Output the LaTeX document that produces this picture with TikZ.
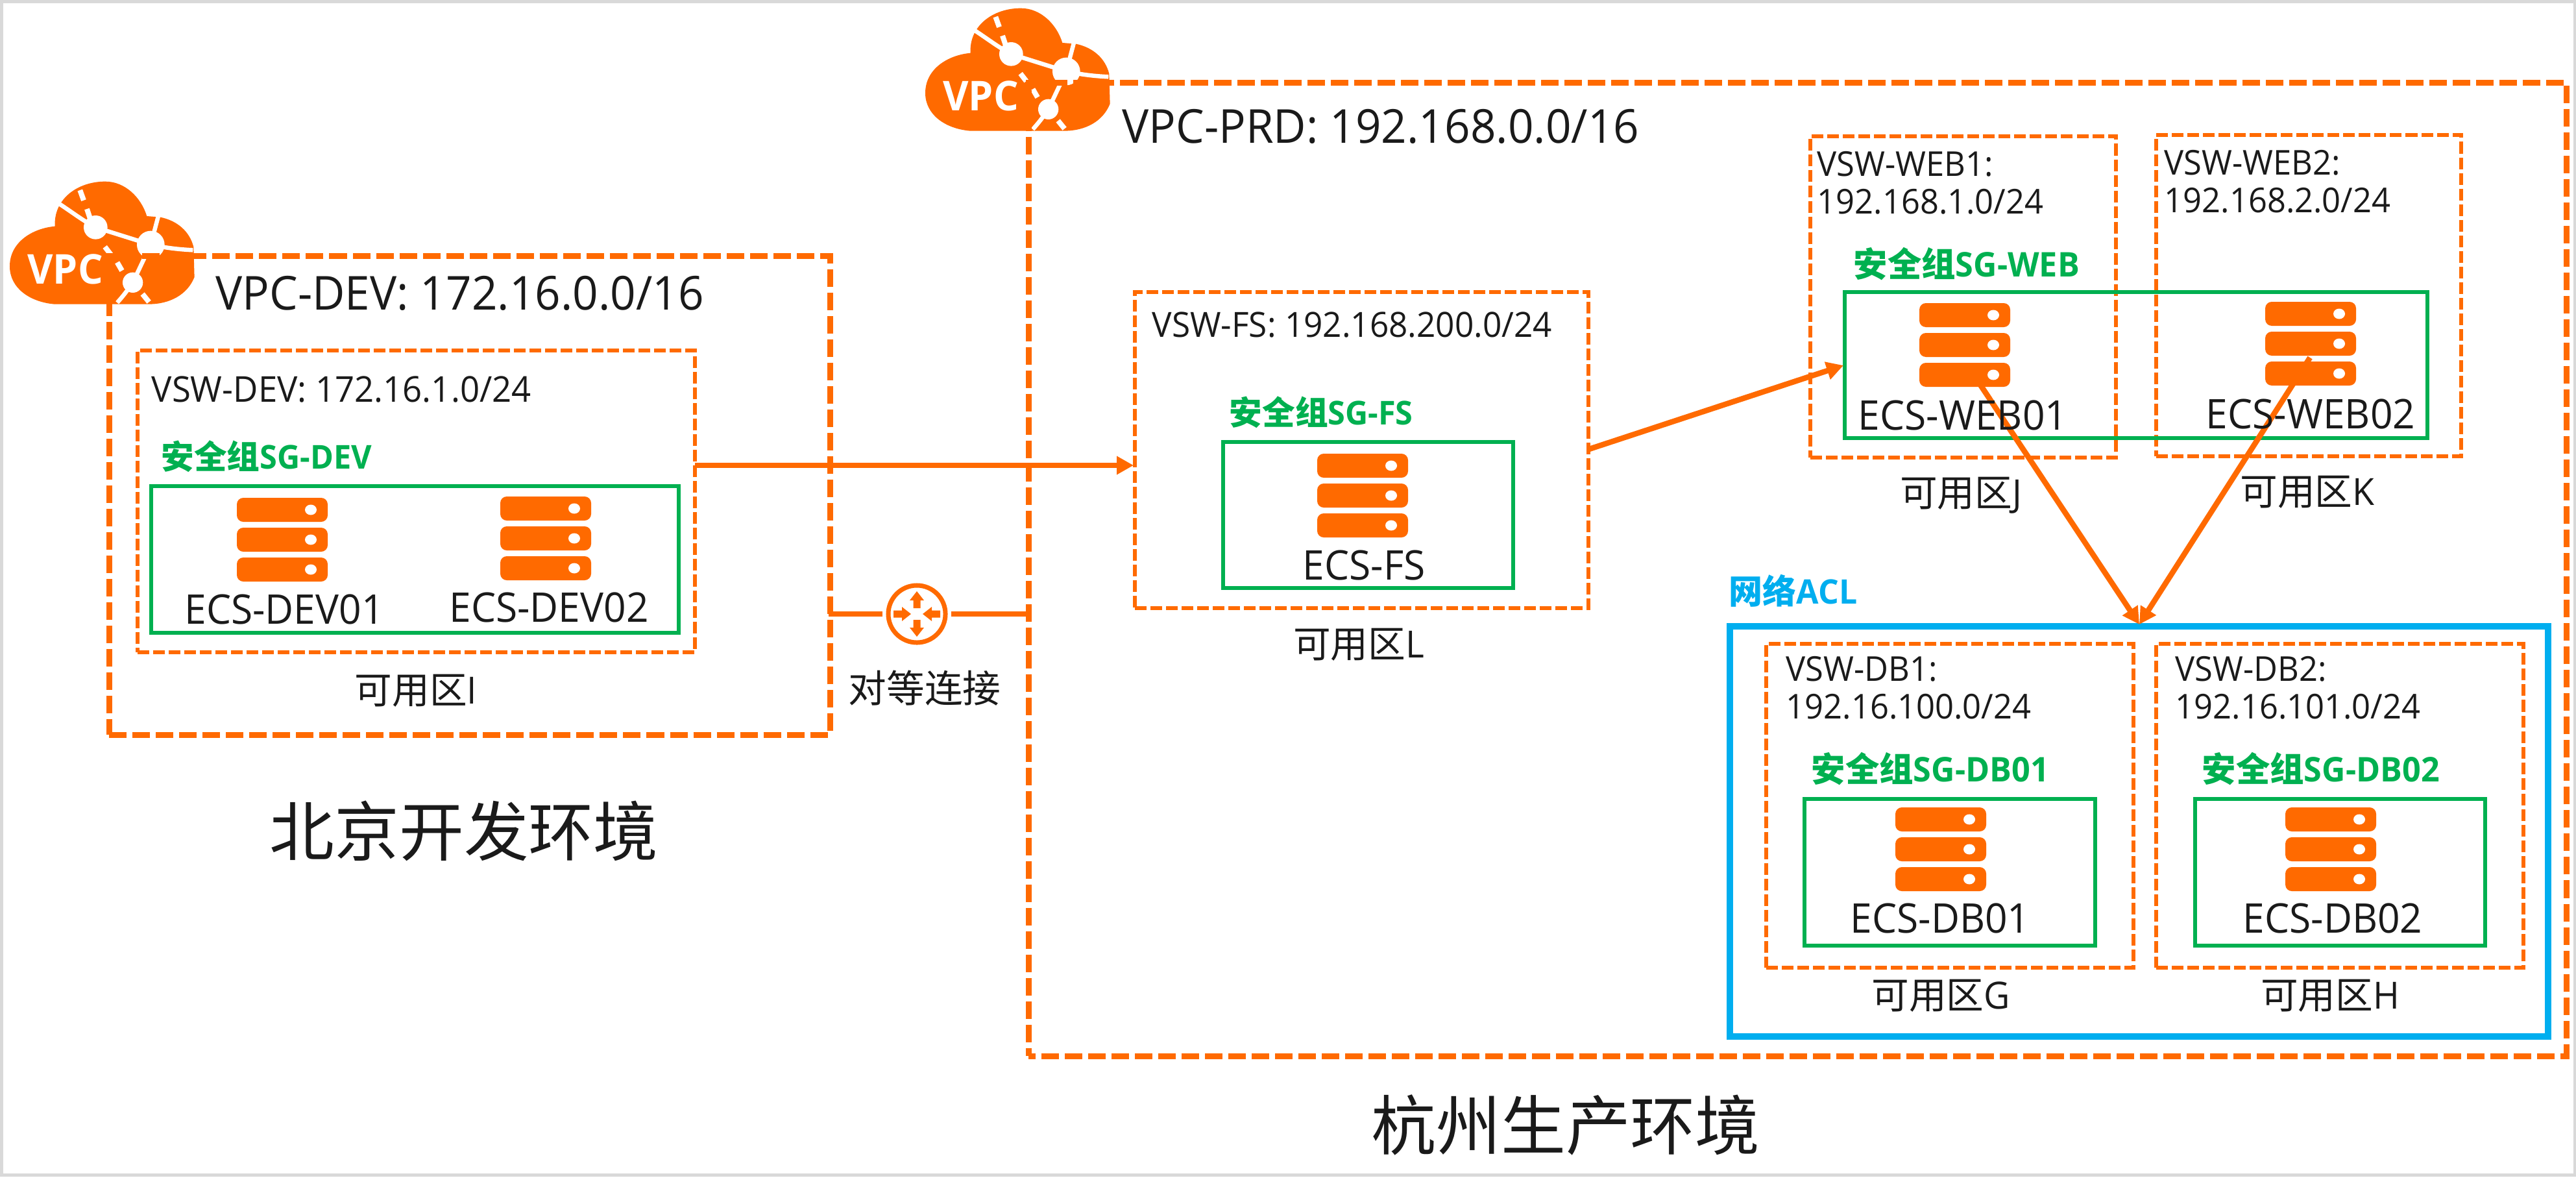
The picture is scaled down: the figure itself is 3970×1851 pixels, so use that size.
\documentclass[tikz,border=0pt]{standalone}
\usepackage{fontspec}
\setmainfont[FakeStretch=0.96]{Open Sans}
\newfontfamily\cjk{Noto Sans CJK SC}
\usetikzlibrary{fit,arrows.meta}
\definecolor{ali}{HTML}{FF6A00}
\definecolor{sg}{HTML}{00B050}
\definecolor{acl}{HTML}{00AEEF}
\definecolor{ink}{HTML}{1A1A1A}
\definecolor{frame}{HTML}{D9D9D9}
\newcommand\cn[1]{{\cjk #1}}
\tikzset{
  vpcbox/.style={draw=ali,line width=0.09cm,dash pattern=on 0.27cm off 0.09cm,inner sep=0pt,rectangle},
  vswbox/.style={draw=ali,line width=0.055cm,dash pattern=on 0.18cm off 0.06cm,inner sep=0pt,rectangle},
  sgbox/.style={draw=sg,line width=0.06cm,inner sep=0pt,rectangle},
  aclbox/.style={draw=acl,line width=0.095cm,inner sep=0pt,rectangle},
  lab/.style={inner sep=0pt,text=ink,anchor=base west},
  vpclab/.style={lab,font=\fontsize{20.5}{24}\selectfont},
  vswlab/.style={lab,font=\fontsize{15.6}{16.5}\selectfont},
  vswtwo/.style={lab,anchor=west,align=left,font=\fontsize{15}{16.5}\selectfont},
  sglab/.style={inner sep=0pt,text=sg,anchor=base west,font=\fontsize{14.4}{17}\selectfont\bfseries},
  sglabb/.style={sglab,font=\fontsize{14.9}{17}\selectfont\bfseries},
  acllab/.style={inner sep=0pt,text=acl,anchor=base west,font=\fontsize{14.8}{17}\selectfont\bfseries},
  ecslab/.style={inner sep=0pt,text=ink,anchor=base,font=\fontsize{17.9}{20}\selectfont},
  zonelab/.style={inner sep=0pt,text=ink,anchor=base,font=\fontsize{16.4}{18}\selectfont},
  envlab/.style={inner sep=0pt,text=ink,anchor=base,font=\fontsize{28.4}{32}\selectfont},
  flow/.style={draw=ali,line width=0.085cm,-{Triangle[length=0.26cm,width=0.27cm]}},
  plainlink/.style={draw=ali,line width=0.085cm},
  vpc/.pic={
    \fill[ali] (345,605) .. controls (230,595) and (138,530) .. (138,430)
      .. controls (138,320) and (240,255) .. (347,245)
      .. controls (340,120) and (450,38) .. (580,38)
      .. controls (670,38) and (745,110) .. (772,198) -- (835,203)
      .. controls (915,220) and (970,270) .. (988,340)
      -- (992,480) .. controls (960,560) and (880,605) .. (780,605) -- cycle;
    \begin{scope}[draw=white,line width=0.065cm]
      \draw (535,250) .. controls (470,215) and (420,175) .. (362,138);
      \draw (535,250) -- (790,330);
      \draw (790,330) -- (825,198);
      \draw (790,330) .. controls (860,345) and (920,352) .. (985,355);
      \draw (790,330) -- (707,505);
      \draw (707,505) .. controls (680,545) and (660,570) .. (635,598);
    \end{scope}
    \fill[white] (535,250) circle (55);
    \fill[white] (790,330) circle (64);
    \fill[white] (707,505) circle (47);
    \begin{scope}[draw=white,line width=0.08cm]
      \draw (463,78) -- (480,125);
      \draw (495,165) -- (510,210);
      \draw (578,340) -- (605,375);
      \draw (635,412) -- (657,450);
      \draw (752,558) -- (782,595);
    \end{scope}
    \node[inner sep=0pt,text=white,anchor=base,font=\fontsize{18}{20}\selectfont\bfseries] (t) at (395,512) {VPC};
  },
  server/.pic={
    \foreach \yy in {0,46,92}{
      \fill[ali,rounded corners=0.1cm] (-70,\yy) rectangle (70,37+\yy);
      \fill[white] (44,18.5+\yy) ellipse (9 and 8);
    }
  }
}
\begin{document}
\begin{tikzpicture}[x=0.01cm,y=-0.01cm]
\useasboundingbox (0,0) rectangle (3970,1851);
\fill[white] (0,0) rectangle (3970,1851);
\draw[draw=frame,line width=0.05cm] (2,2) rectangle (3968,1810);

% clouds (drawn under the dashed VPC boxes)
\pic[scale=0.3333] (cloudprd) at (1380,0) {vpc};
\pic[scale=0.3333] (clouddev) at (-31,267) {vpc};

% containers
\node[vpcbox,fit={(168,394)(1279,1132)}] (vpcdev) {};
\node[vpcbox,dash phase=0.16cm,fit={(1585,127)(3955,1627)}] (vpcprd) {};
\node[vswbox,fit={(212,540)(1071,1005)}] (vswdev) {};
\node[vswbox,fit={(1749,450)(2448,937)}] (vswfs) {};
\node[vswbox,fit={(2790,210)(3261,705)}] (vswweba) {};
\node[vswbox,fit={(3323,208)(3793,703)}] (vswwebb) {};
\node[aclbox,fit={(2666,965)(3927,1597)}] (aclbx) {};
\node[vswbox,fit={(2722,992)(3288,1491)}] (vswdba) {};
\node[vswbox,fit={(3323,992)(3889,1491)}] (vswdbb) {};
\node[sgbox,fit={(233,749)(1046,975)}] (sgdev) {};
\node[sgbox,fit={(1885,681)(2332,906)}] (sgfs) {};
\node[sgbox,fit={(2843,450)(3741,675)}] (sgweb) {};
\node[sgbox,fit={(2781,1231)(3229,1457)}] (sgdba) {};
\node[sgbox,fit={(3383,1231)(3830,1457)}] (sgdbb) {};

% connector end points on the boxes
\coordinate (devout) at (1071,717);
\coordinate (fsin) at (1747,717);
\coordinate (fsout) at (2449,692);
\coordinate (webin) at (2841,563);
\coordinate (weba) at (3050,590);
\coordinate (webb) at (3560,551);
\coordinate (aclin) at (3297,962);
\coordinate (peerl) at (1277,946);
\coordinate (peerr) at (1585,946);

% peering icon
\node[circle,draw=ali,line width=0.07cm,minimum size=0.88cm,inner sep=0pt] (peer) at (1413,946) {};
\fill[ali] (1413,911) -- (1424,925) -- (1418.5,925) -- (1418.5,937) -- (1407.5,937) -- (1407.5,925) -- (1402,925) -- cycle;
\fill[ali] (1413,981) -- (1424,967) -- (1418.5,967) -- (1418.5,955) -- (1407.5,955) -- (1407.5,967) -- (1402,967) -- cycle;
\fill[ali] (1404,946) -- (1390,935) -- (1390,940.5) -- (1377,940.5) -- (1377,951.5) -- (1390,951.5) -- (1390,957) -- cycle;
\fill[ali] (1422,946) -- (1436,935) -- (1436,940.5) -- (1449,940.5) -- (1449,951.5) -- (1436,951.5) -- (1436,957) -- cycle;

% connectors
\draw[flow] (devout) -- (fsin);
\draw[flow] (fsout) -- (webin);
\draw[flow] (weba) -- (aclin);
\draw[flow] (webb) -- (aclin);
\draw[plainlink] (peerl) -- ([xshift=-0.05cm]peer.west);
\draw[plainlink] ([xshift=0.05cm]peer.east) -- (peerr);

% servers
\pic (srvdeva) at (435,767) {server};
\pic (srvdevb) at (841,765) {server};
\pic (srvfs) at (2100,699) {server};
\pic (srvweba) at (3028,467) {server};
\pic (srvwebb) at (3561,465) {server};
\pic (srvdba) at (2991,1244) {server};
\pic (srvdbb) at (3592,1244) {server};

% texts
\node[vpclab] (tvpcdev) at (332,477) {VPC-DEV: 172.16.0.0/16};
\node[vpclab] (tvpcprd) at (1729,220) {VPC-PRD: 192.168.0.0/16};
\node[vswlab] (tvswdev) at (233,619) {VSW-DEV: 172.16.1.0/24};
\node[vswlab,font=\fontsize{15.2}{16.5}\selectfont] (tvswfs) at (1775,519) {VSW-FS: 192.168.200.0/24};
\node[vswtwo] (tvswweba) at (2800,282) {VSW-WEB1:\\192.168.1.0/24};
\node[vswtwo] (tvswwebb) at (3335,280) {VSW-WEB2:\\192.168.2.0/24};
\node[vswtwo] (tvswdba) at (2752,1060) {VSW-DB1:\\192.16.100.0/24};
\node[vswtwo] (tvswdbb) at (3352,1060) {VSW-DB2:\\192.16.101.0/24};
\node[sglab] (tsgdev) at (248,722) {\cn{安全组}SG-DEV};
\node[sglab] (tsgfs) at (1894,654) {\cn{安全组}SG-FS};
\node[sglabb] (tsgweb) at (2856,426) {\cn{安全组}SG-WEB};
\node[sglabb] (tsgdba) at (2791,1204) {\cn{安全组}SG-DB01};
\node[sglabb] (tsgdbb) at (3393,1204) {\cn{安全组}SG-DB02};
\node[acllab] (tacl) at (2664,930) {\cn{网络}ACL};
\node[ecslab] (tdeva) at (438,961) {ECS-DEV01};
\node[ecslab] (tdevb) at (846,958) {ECS-DEV02};
\node[ecslab] (tfs) at (2102,893) {ECS-FS};
\node[ecslab] (tweba) at (3025,662) {ECS-WEB01};
\node[ecslab] (twebb) at (3561,660) {ECS-WEB02};
\node[ecslab] (tdba) at (2990,1437) {ECS-DB01};
\node[ecslab] (tdbb) at (3595,1437) {ECS-DB02};
\node[zonelab] (zi) at (641,1084) {\cn{可用区}I};
\node[zonelab] (zl) at (2094,1013) {\cn{可用区}L};
\node[zonelab] (zj) at (3022,780) {\cn{可用区}J};
\node[zonelab] (zk) at (3556,778) {\cn{可用区}K};
\node[zonelab] (zg) at (2991,1554) {\cn{可用区}G};
\node[zonelab] (zh) at (3591,1554) {\cn{可用区}H};
\node[zonelab,font=\fontsize{16.7}{18}\selectfont] (tpeer) at (1425,1082) {\cn{对等连接}};
\node[envlab] (tbj) at (715,1318) {\cn{北京开发环境}};
\node[envlab] (thz) at (2413,1771) {\cn{杭州生产环境}};
\end{tikzpicture}
\end{document}
